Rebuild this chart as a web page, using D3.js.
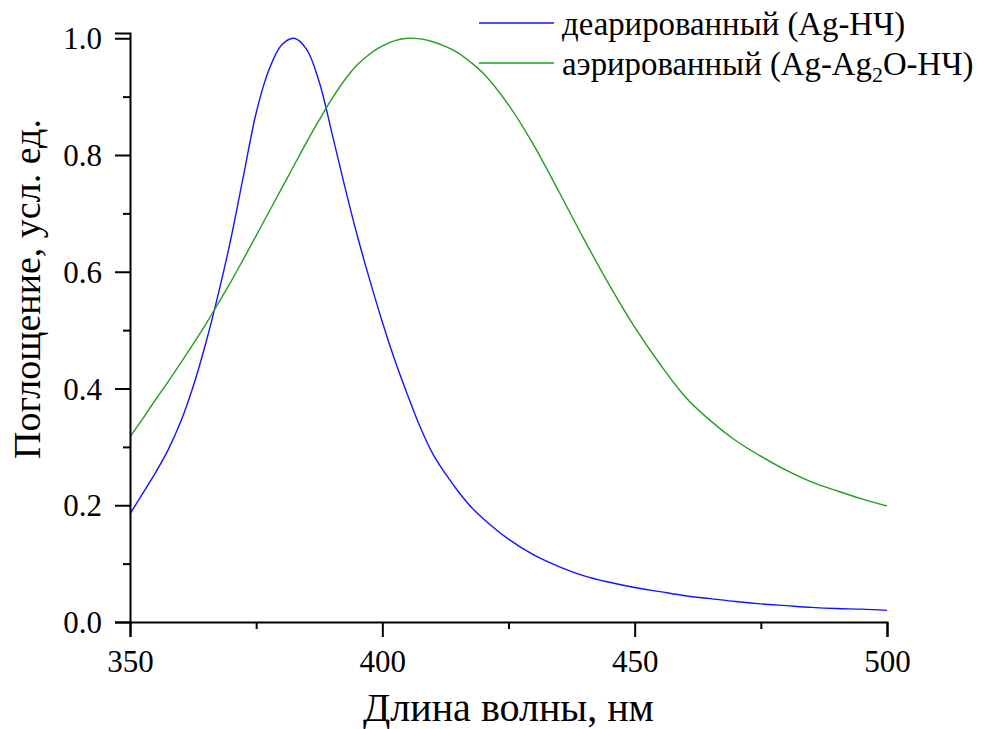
<!DOCTYPE html>
<html>
<head>
<meta charset="utf-8">
<script src="https://cdn.jsdelivr.net/npm/d3@7"></script>
<style>
  body { margin: 0; background: #fff; }
  svg text { font-family: "Liberation Serif", "Times New Roman", serif; fill: #000; }
</style>
</head>
<body>
<div id="chart"></div>
<script>
// длины волн, нм
const wavelengths = [
    350, 352.5, 355, 357.5, 360, 362.5, 365, 367.5, 370, 372.5,
    375, 377.5, 380, 382.5, 385, 387.5, 390, 392.5, 395, 397.5,
    400, 402.5, 405, 407.5, 410, 412.5, 415, 417.5, 420,
    425, 430, 435, 440, 445, 450, 455, 460, 465, 470, 475, 480, 485, 490, 495, 500
];

// деарированный (Ag-НЧ)
const deaerated = [
    0.185, 0.220, 0.255, 0.294, 0.342, 0.403, 0.477, 0.562, 0.657, 0.765,
    0.872, 0.945, 0.988, 1.000, 0.981, 0.925, 0.838, 0.748, 0.663, 0.586,
    0.514, 0.448, 0.389, 0.334, 0.288, 0.254, 0.224, 0.198, 0.177,
    0.142, 0.115, 0.095, 0.079, 0.068, 0.059, 0.052, 0.045, 0.040, 0.035, 0.031, 0.028, 0.025, 0.023, 0.022, 0.020
];

// аэрированный (Ag-Ag2O-НЧ)
const aerated = [
    0.317, 0.348, 0.380, 0.411, 0.443, 0.476, 0.510, 0.546, 0.583, 0.622,
    0.662, 0.702, 0.742, 0.782, 0.822, 0.860, 0.896, 0.928, 0.954, 0.973,
    0.987, 0.996, 1.000, 0.999, 0.994, 0.986, 0.975, 0.959, 0.940,
    0.886, 0.817, 0.737, 0.655, 0.577, 0.505, 0.442, 0.386, 0.345, 0.311, 0.284, 0.260, 0.240, 0.225, 0.211, 0.199
];

const xTicks = [350, 400, 450, 500];
const xMinorTicks = [375, 425, 475];
const yTicks = [0.0, 0.2, 0.4, 0.6, 0.8, 1.0];
const yMinorTicks = [0.1, 0.3, 0.5, 0.7, 0.9];

const series = [
    {name: "деарированный (Ag-НЧ)", values: deaerated, color: "#1414ff"},
    {name: "аэрированный (Ag-Ag2O-НЧ)", values: aerated, color: "#1f9f1f"}
];

const serif = "'Liberation Serif', 'Times New Roman', serif";
const width = 984, height = 729;
const margin = {top: 33, right: 97, bottom: 107, left: 130};

const svg = d3.select("#chart").append("svg")
    .attr("width", width)
    .attr("height", height);

const xScale = d3.scaleLinear().domain([350, 500]).range([margin.left, width - margin.right]);
const yScale = d3.scaleLinear().domain([0, 1.009]).range([height - margin.bottom, margin.top]);

// линии
const line = d3.line()
    .x((d, i) => xScale(wavelengths[i]))
    .y(d => yScale(d))
    .curve(d3.curveCatmullRom.alpha(0.5));

svg.selectAll(".curve")
    .data(series)
    .join("path")
    .attr("class", "curve")
    .attr("d", d => line(d.values))
    .attr("fill", "none")
    .attr("stroke", d => d.color)
    .attr("stroke-width", 1.4);

// оси
const xAxis = svg.append("g")
    .attr("transform", `translate(0,${yScale(0)})`)
    .call(d3.axisBottom(xScale).tickValues(xTicks).tickSize(15).tickPadding(6).tickFormat(d3.format("d")));
svg.append("g")
    .attr("transform", `translate(0,${yScale(0)})`)
    .call(d3.axisBottom(xScale).tickValues(xMinorTicks).tickSize(7).tickFormat(""))
    .call(g => g.select(".domain").remove());

const yAxis = svg.append("g")
    .attr("transform", `translate(${xScale(350)},0)`)
    .call(d3.axisLeft(yScale).tickValues(yTicks).tickSize(15).tickPadding(13).tickFormat(d3.format(".1f")));
svg.append("g")
    .attr("transform", `translate(${xScale(350)},0)`)
    .call(d3.axisLeft(yScale).tickValues(yMinorTicks).tickSize(7).tickFormat(""))
    .call(g => g.select(".domain").remove());

svg.selectAll("g").attr("font-family", null);
svg.selectAll(".domain").attr("stroke", "#000").attr("stroke-width", 2);
svg.selectAll(".tick line").attr("stroke", "#000").attr("stroke-width", 2);
svg.selectAll(".tick text")
    .style("font-family", serif)
    .style("font-size", "31px")
    .attr("fill", "#000");
xAxis.selectAll(".tick text").attr("dy", "0.95em");
yAxis.selectAll(".tick text").attr("dy", "0.34em");

// подписи осей
svg.append("text")
    .attr("x", (xScale(350) + xScale(500)) / 2)
    .attr("y", 721)
    .attr("text-anchor", "middle")
    .style("font-family", serif)
    .style("font-size", "40px")
    .text("Длина волны, нм");

svg.append("text")
    .attr("transform", `translate(40,289) rotate(-90)`)
    .attr("text-anchor", "middle")
    .style("font-family", serif)
    .style("font-size", "38px")
    .text("Поглощение, усл. ед.");

// легенда
const legend = svg.append("g");
const legendY = [23, 63];
series.forEach((s, i) => {
    legend.append("line")
        .attr("x1", 479).attr("x2", 554)
        .attr("y1", legendY[i]).attr("y2", legendY[i])
        .attr("stroke", s.color)
        .attr("stroke-width", 1.4);
});
legend.append("text")
    .attr("x", 562).attr("y", legendY[0] + 12)
    .style("font-family", serif)
    .style("font-size", "32.8px")
    .text(series[0].name);
const t2 = legend.append("text")
    .attr("x", 562).attr("y", legendY[1] + 12)
    .style("font-family", serif)
    .style("font-size", "32.8px");
t2.append("tspan").text("аэрированный (Ag-Ag");
t2.append("tspan").style("font-size", "22px").attr("dy", 7).text("2");
t2.append("tspan").attr("dy", -7).text("O-НЧ)");
</script>
</body>
</html>
